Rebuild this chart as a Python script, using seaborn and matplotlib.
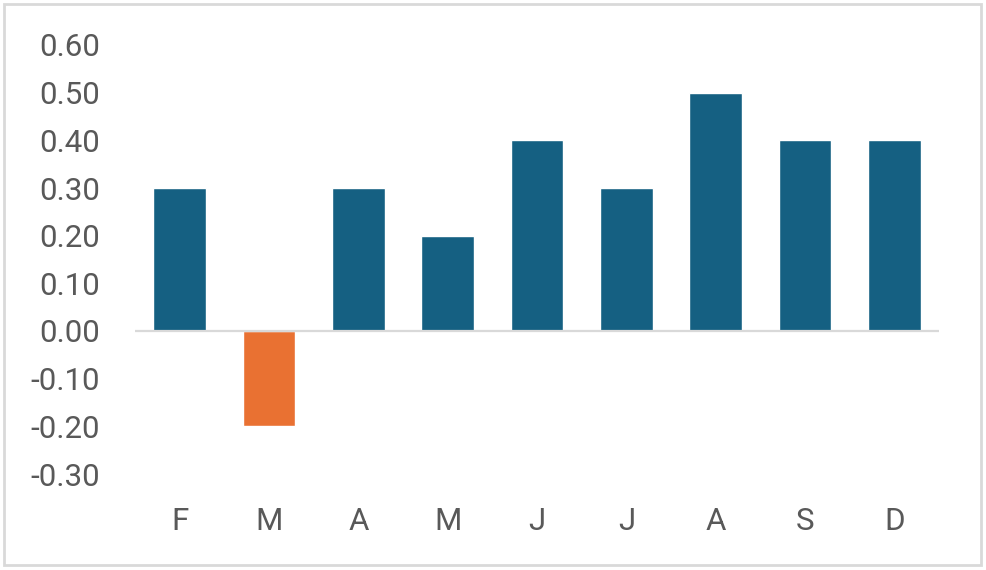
"""Monthly values bar chart, Excel style, with the negative month in orange."""

import matplotlib.pyplot as plt
import seaborn as sns
from matplotlib.patches import Rectangle

months = ["Feb", "Mar", "Apr", "May", "Jun", "Jul", "Aug", "Sep", "Dec"]
tick_labels = ["F", "M", "A", "M", "J", "J", "A", "S", "D"]
values = [0.30, -0.20, 0.30, 0.20, 0.40, 0.30, 0.50, 0.40, 0.40]
y_ticks = [0.60, 0.50, 0.40, 0.30, 0.20, 0.10, 0.00, -0.10, -0.20, -0.30]

signs = ["neg" if v < 0 else "pos" for v in values]
colors = {"pos": "#156082", "neg": "#E97132"}

sns.set_theme(style="white")
plt.rcParams["font.family"] = ["Roboto", "DejaVu Sans"]

fig = plt.figure(figsize=(9.86, 5.70), dpi=100)
ax = fig.add_axes([135 / 986, 1 - 474 / 570, 804 / 986, 429 / 570])

sns.barplot(x=months, y=values, hue=signs, palette=colors, width=0.59,
            dodge=False, legend=False, saturation=1, ax=ax)

ax.set_ylim(-0.30, 0.60)
ax.set_xlim(-0.5, len(months) - 0.5)
ax.set_yticks(y_ticks)
ax.set_yticklabels([f"{t:.2f}" for t in y_ticks])
ax.set_xticks(range(len(months)))
ax.set_xticklabels(tick_labels)
ax.tick_params(axis="y", length=0, pad=25, labelsize=22.5, labelcolor="#595959")
ax.tick_params(axis="x", length=0, pad=24, labelsize=22.5, labelcolor="#595959")
ax.axhline(0, color="#D9D9D9", linewidth=1.6, zorder=3)
for s in ax.spines.values():
    s.set_visible(False)
ax.set_xlabel("")
ax.set_ylabel("")

# chart area border
fig.patches.append(Rectangle((4 / 986, 5 / 570), 977 / 986, 561 / 570,
                             transform=fig.transFigure, fill=False,
                             edgecolor="#D9D9D9", linewidth=2))

fig.savefig("out.png", dpi=100)
